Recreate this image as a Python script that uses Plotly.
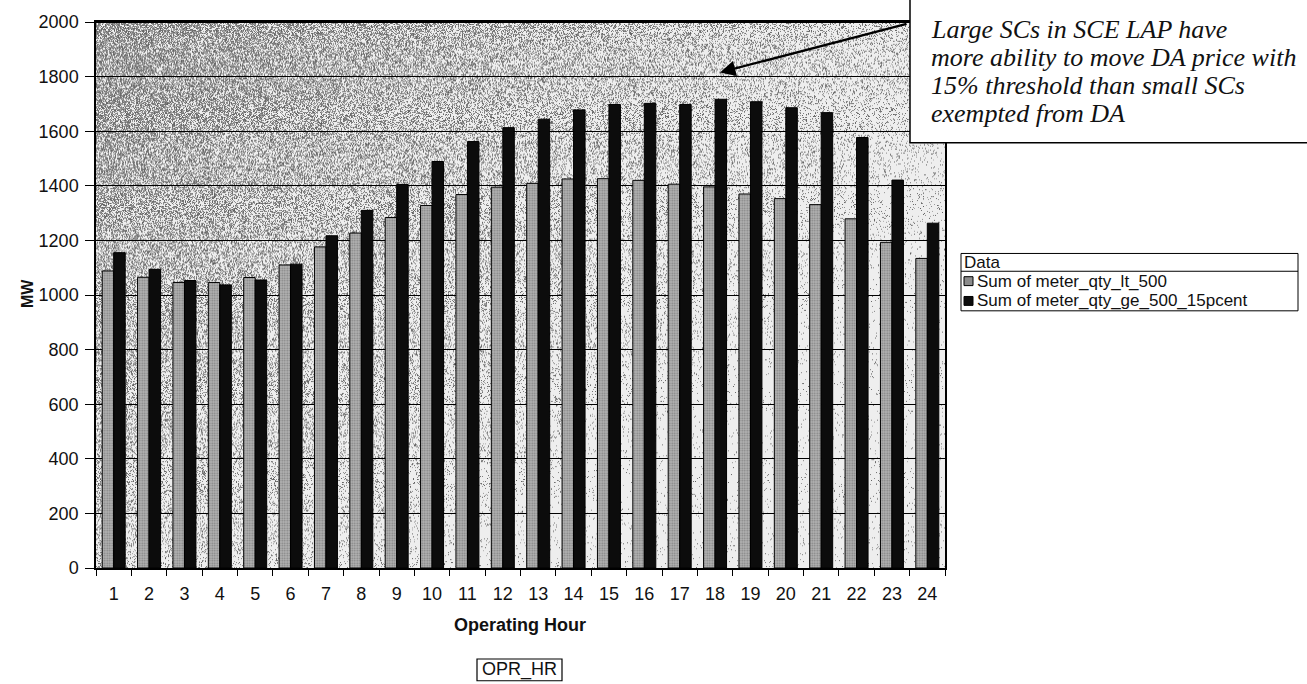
import base64
import struct
import zlib

import numpy as np
import plotly.graph_objects as go

# ---- data -------------------------------------------------------------
hours = [str(h) for h in range(1, 25)]
meter_qty_lt_500 = [1088, 1065, 1046, 1046, 1064, 1110, 1176, 1227, 1284, 1328, 1368, 1395,
                    1409, 1425, 1426, 1420, 1406, 1396, 1370, 1353, 1331, 1279, 1193, 1134]
meter_qty_ge_500_15pcent = [1155, 1094, 1053, 1037, 1055, 1113, 1217, 1310, 1405, 1489, 1562, 1613,
                            1644, 1678, 1698, 1702, 1698, 1717, 1708, 1686, 1668, 1577, 1421, 1263]
y_ticks = list(range(0, 2001, 200))
series_names = ["Sum of meter_qty_lt_500", "Sum of meter_qty_ge_500_15pcent"]
note_lines = ["Large SCs in SCE LAP have",
              "more ability to move DA price with",
              "15% threshold than small SCs",
              "exempted from DA"]

# ---- page geometry (pixels) ------------------------------------------
W, H = 1307, 684
L, R, T, B = 96, 945, 16, 568
PW, PH = R - L, B - T


def px(x):
    return (x - L) / PW


def py(y):
    return (B - y) / PH


# ---- stippled backdrop for the plotting area ---------------------------
def stipple_png(w, h):
    rng = np.random.default_rng(7)
    xn = np.linspace(0, 1, w)[None, :]
    yn = np.linspace(0, 1, h)[:, None]
    dens = np.clip(0.74 - 0.52 * xn - 0.46 * yn, 0.04, 0.72)
    r = rng.random((h, w))
    shade = (95 + 80 * rng.random((h, w))).astype(np.uint8)
    img = np.where(r < dens, shade, 238).astype(np.uint8)
    raw = b"".join(b"\x00" + img[i].tobytes() for i in range(h))

    def chunk(tag, data):
        c = struct.pack(">I", len(data)) + tag + data
        return c + struct.pack(">I", zlib.crc32(tag + data) & 0xFFFFFFFF)

    png = b"\x89PNG\r\n\x1a\n"
    png += chunk(b"IHDR", struct.pack(">IIBBBBB", w, h, 8, 0, 0, 0, 0))
    png += chunk(b"IDAT", zlib.compress(raw, 9))
    png += chunk(b"IEND", b"")
    return "data:image/png;base64," + base64.b64encode(png).decode()


fig = go.Figure()
fig.add_trace(go.Bar(
    x=hours, y=meter_qty_lt_500, name=series_names[0],
    marker=dict(color="#a8a8a8", line=dict(color="#000", width=1),
                pattern=dict(shape=".", fgcolor="#4a4a4a", bgcolor="#b4b4b4",
                             size=2.5, solidity=0.4)),
))
fig.add_trace(go.Bar(
    x=hours, y=meter_qty_ge_500_15pcent, name=series_names[1],
    marker=dict(color="#0c0c0c", line=dict(color="#000", width=1)),
))

tick_font = dict(family="Liberation Sans, Arial, sans-serif", size=18, color="#111")

fig.update_layout(
    width=W, height=H, autosize=False,
    margin=dict(l=L, r=W - R, t=T, b=H - B, pad=0),
    paper_bgcolor="white",
    plot_bgcolor="rgba(0,0,0,0)",
    barmode="group", bargap=0.35, bargroupgap=0.0,
    showlegend=False,
    font=tick_font,
    xaxis=dict(type="category", tickson="boundaries", ticks="outside", ticklen=6,
               tickcolor="#000", tickfont=tick_font, ticklabelstandoff=9,
               showline=True, linecolor="#000", linewidth=1.5, mirror=True,
               showgrid=False),
    yaxis=dict(range=[0, 2000], tickvals=y_ticks, ticks="outside", ticklen=9,
               tickcolor="#000", tickfont=tick_font, ticklabelstandoff=3,
               showline=True, linecolor="#000", linewidth=1.5, mirror=True,
               showgrid=True, gridcolor="#000", gridwidth=1, zeroline=False),
    images=[dict(source=stipple_png(PW, PH), xref="paper", yref="paper",
                 x=0, y=1, sizex=1, sizey=1, sizing="stretch", layer="below")],
)

shapes = []
annotations = []

# heavier top edge of the plotting area
shapes.append(dict(type="line", xref="paper", yref="paper", x0=0, x1=1, y0=1, y1=1,
                   line=dict(color="#000", width=2.2), layer="above"))

# axis titles
annotations.append(dict(text="<b>MW</b>", xref="paper", yref="paper", x=px(27), y=py(291),
                        textangle=-90, showarrow=False, xanchor="center", yanchor="middle",
                        font=dict(family="Liberation Sans, Arial", size=16, color="#111")))
annotations.append(dict(text="<b>Operating Hour</b>", xref="paper", yref="paper",
                        x=px(520), y=py(626), showarrow=False, xanchor="center", yanchor="middle",
                        font=dict(family="Liberation Sans, Arial", size=18, color="#111")))

# field button under the axis
shapes.append(dict(type="rect", xref="paper", yref="paper", x0=px(477), x1=px(562),
                   y0=py(682), y1=py(660), line=dict(color="#000", width=1.2),
                   fillcolor="white", layer="above"))
annotations.append(dict(text="OPR_HR", xref="paper", yref="paper", x=px(519.5), y=py(671),
                        showarrow=False, xanchor="center", yanchor="middle",
                        font=dict(family="Liberation Sans, Arial", size=18, color="#111")))

# legend table
shapes.append(dict(type="rect", xref="paper", yref="paper", x0=px(961), x1=px(1298),
                   y0=py(308), y1=py(250), line=dict(color="#000", width=1),
                   fillcolor="white", layer="above"))
shapes.append(dict(type="line", xref="paper", yref="paper", x0=px(961), x1=px(1298),
                   y0=py(268), y1=py(268), line=dict(color="#000", width=1), layer="above"))
annotations.append(dict(text="Data", xref="paper", yref="paper", x=px(963), y=py(259),
                        showarrow=False, xanchor="left", yanchor="middle", borderpad=0,
                        font=dict(family="Liberation Sans, Arial", size=17, color="#111")))
swatch_colors = ["#8c8c8c", "#0c0c0c"]
for i, (name, col) in enumerate(zip(series_names, swatch_colors)):
    yc = 278 + 20 * i
    shapes.append(dict(type="rect", xref="paper", yref="paper", x0=px(964), x1=px(973),
                       y0=py(yc + 4.5), y1=py(yc - 4.5), line=dict(color="#000", width=1),
                       fillcolor=col, layer="above"))
    annotations.append(dict(text=name, xref="paper", yref="paper", x=px(976), y=py(yc),
                            showarrow=False, xanchor="left", yanchor="middle", borderpad=0,
                            font=dict(family="Liberation Sans, Arial", size=17, color="#111")))

# callout box with arrow
shapes.append(dict(type="rect", xref="paper", yref="paper", x0=px(910), x1=px(1330),
                   y0=py(138), y1=py(-10), line=dict(color="#000", width=1.5),
                   fillcolor="white", layer="above"))
for i, line in enumerate(note_lines):
    annotations.append(dict(text=line, xref="paper", yref="paper", x=px(930), y=py(24 + 28.3 * i),
                            showarrow=False, xanchor="left", yanchor="middle", borderpad=0,
                            font=dict(family="Liberation Serif, Times New Roman, serif",
                                      size=26, color="#111", style="italic")))
annotations.append(dict(text="", xref="paper", yref="paper", x=px(720), y=py(67),
                        ax=188, ay=-49, axref="pixel", ayref="pixel",
                        showarrow=True, arrowhead=2, arrowsize=1.4, arrowwidth=2.2,
                        arrowcolor="#000"))

fig.update_layout(shapes=shapes, annotations=annotations)
fig.write_html("out.html")
